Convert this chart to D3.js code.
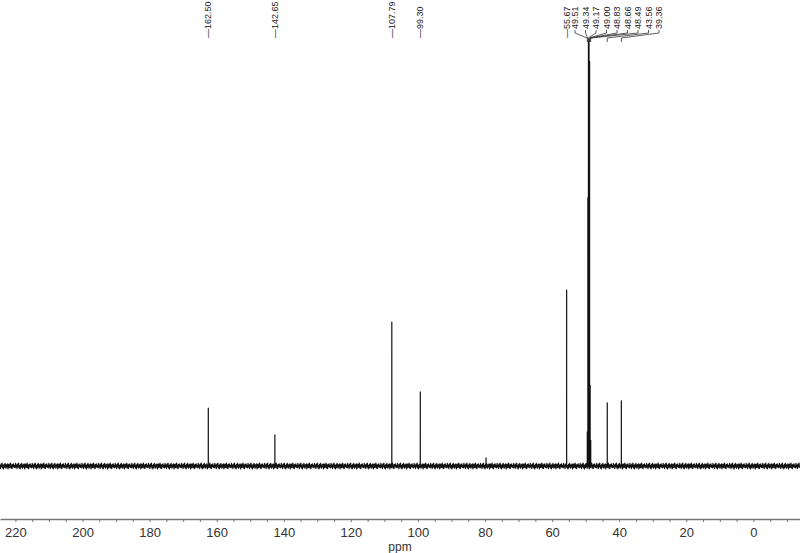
<!DOCTYPE html>
<html><head><meta charset="utf-8">
<script src="https://cdn.jsdelivr.net/npm/d3@7"></script>
<style>body{margin:0;background:#fff}svg{display:block}</style>
</head><body>
<svg id="c" width="800" height="553"></svg>
<script>
// Peaks (ppm, relative intensity)
const peakPpm   = [162.50, 142.65, 107.79, 99.30, 79.70, 55.67, 49.51, 49.34, 49.17, 49.00, 48.83, 48.66, 48.49, 43.56, 39.36];
const peakInt   = [13.6,   7.3,    33.8,   17.4,  1.9,   41.3,  8,     63,    100,   100,   95,    19,    6,     14.8,  15.3];
// Labelled peaks
const singleLabels  = ["162.50", "142.65", "107.79", "99.30", "55.67"];
const clusterLabels = ["49.51", "49.34", "49.17", "49.00", "48.83", "48.66", "48.49", "43.56", "39.36"];
// Axis ticks
const tickValues = d3.range(-10, 225, 5);
const labelTicks = [220, 200, 180, 160, 140, 120, 100, 80, 60, 40, 20, 0];
// Baseline noise texture (typed, tiled)
const noiseTex = [0.3,-0.8,0.6,-0.2,0.9,-0.6,0.1,-0.9,0.5,-0.4,0.8,-0.1,-0.7,0.4,-0.3,0.7,-0.9,0.2,0.6,-0.5,0.0,0.9,-0.6,0.3,-0.8,0.5,-0.2,0.7,-0.4,0.1,-0.6,0.8,-0.3];

const svg = d3.select("#c");
const W = 800;
const x = d3.scaleLinear().domain([224.6, -13.9]).range([0, W]);
const y = d3.scaleLinear().domain([0, 100]).range([466, 40]);

// spectrum points
const pts = [];
const step = 0.15;
let k = 0;
for (let p = 224.6; p >= -13.9; p -= step) {
  pts.push({p, v: noiseTex[k % noiseTex.length] * 0.75});
  k++;
}
peakPpm.forEach((p, i) => {
  pts.push({p: p + 0.001, v: 0});
  pts.push({p: p, v: peakInt[i]});
  pts.push({p: p - 0.001, v: 0});
});
pts.sort((a, b) => b.p - a.p);

const line = d3.line().x(d => x(d.p)).y(d => y(d.v));
svg.append("path").datum(pts)
  .attr("d", line)
  .attr("fill", "none")
  .attr("stroke", "#111")
  .attr("stroke-width", 1.2)
  .attr("stroke-linejoin", "round");

// axis
const axis = d3.axisBottom(x)
  .tickValues(tickValues)
  .tickSize(3)
  .tickSizeOuter(0)
  .tickFormat(d => labelTicks.includes(d) ? d : "");
const gA = svg.append("g").attr("transform", "translate(0,519)").call(axis);
gA.select(".domain").attr("stroke", "#777").attr("stroke-width", 1.5);
gA.selectAll(".tick line").attr("stroke", "#777");
gA.selectAll(".tick text")
  .attr("font-family", "Liberation Sans, Arial, sans-serif")
  .attr("font-size", 13)
  .attr("fill", "#333")
  .attr("dy", "0.9em");

svg.append("text")
  .attr("x", 400).attr("y", 551)
  .attr("text-anchor", "middle")
  .attr("font-family", "Liberation Sans, Arial, sans-serif")
  .attr("font-size", 12)
  .attr("fill", "#333")
  .text("ppm");

const fontFam = "Liberation Sans, Arial, sans-serif";
// single labels
singleLabels.forEach(s => {
  const px = x(+s);
  svg.append("text")
    .attr("transform", `translate(${px},38) rotate(-90)`)
    .attr("dy", "0.35em")
    .attr("font-family", fontFam)
    .attr("font-size", 9)
    .attr("fill", "#222")
    .text("\u2014" + s);
});

// cluster labels with connectors
clusterLabels.forEach((s, i) => {
  const lx = 575 + i * 10.5;
  const px = x(+s);
  svg.append("text")
    .attr("transform", `translate(${lx},29) rotate(-90)`)
    .attr("dy", "0.35em")
    .attr("font-family", fontFam)
    .attr("font-size", 9)
    .attr("fill", "#222")
    .text(s);
  svg.append("path")
    .attr("d", `M${lx},30 L${lx},33 L${px},38 L${px},42`)
    .attr("fill", "none")
    .attr("stroke", "#333")
    .attr("stroke-width", 0.8);
});
</script>
</body></html>
